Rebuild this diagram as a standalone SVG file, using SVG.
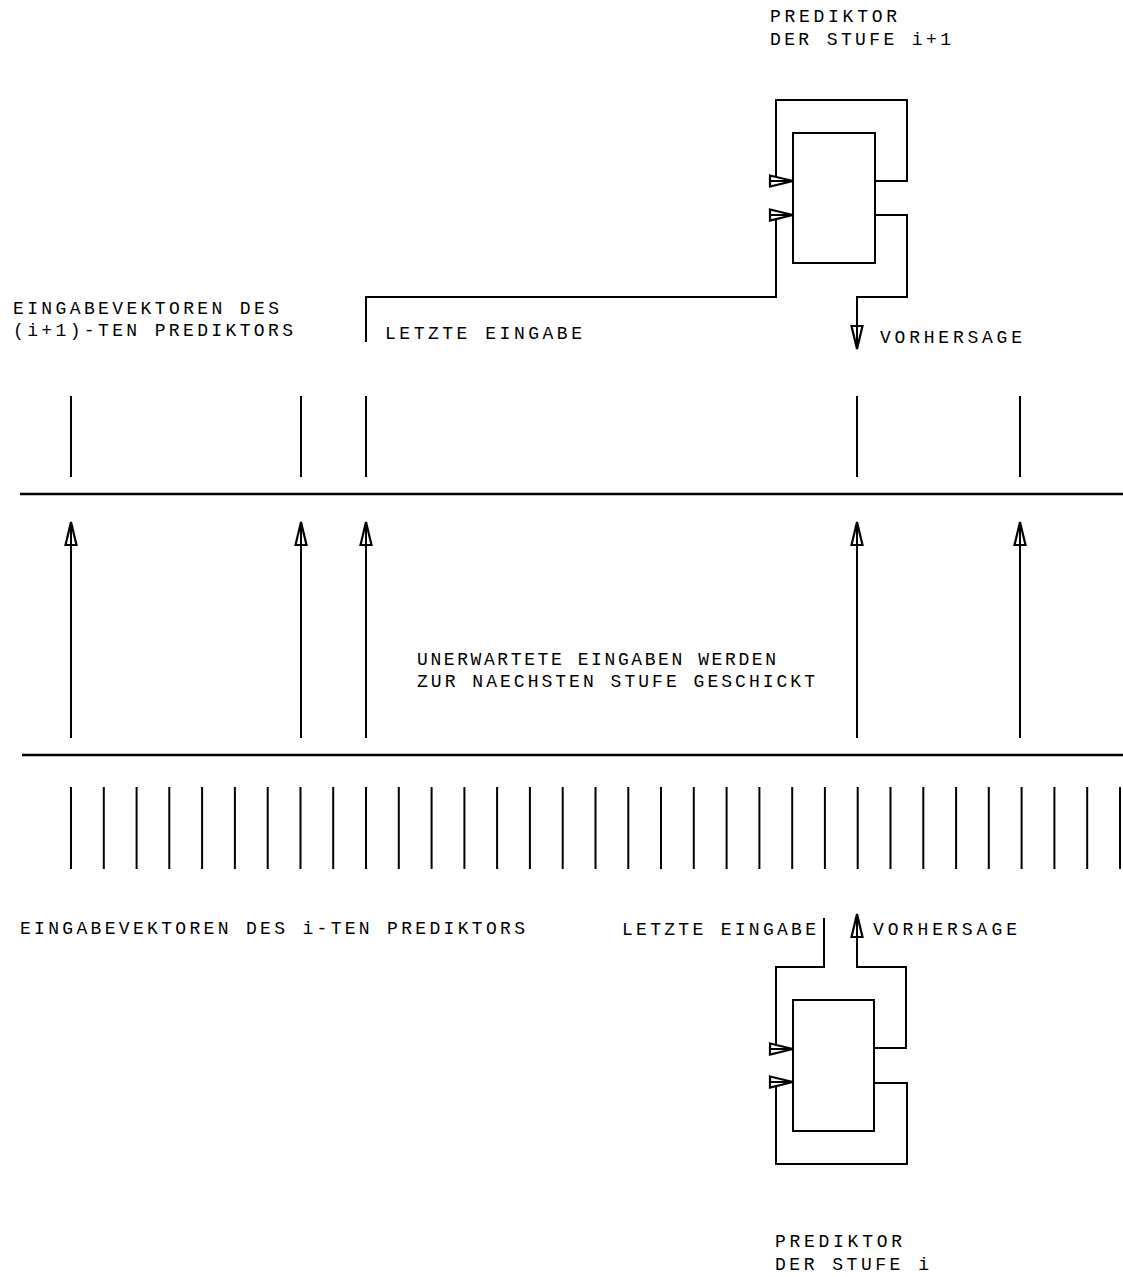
<svg xmlns="http://www.w3.org/2000/svg" width="1123" height="1277" viewBox="0 0 1123 1277">
<style>
text{font-family:"Liberation Mono","Courier New",monospace;font-size:18px;fill:#000}
.ln{stroke:#000;stroke-width:2;fill:none}
.bus{stroke:#000;stroke-width:2.5;fill:none}
.box{stroke:#000;stroke-width:2;fill:#fff}
.ar{stroke:#000;stroke-width:2;fill:none;marker-end:url(#ah)}
</style>
<defs>
<marker id="ah" markerUnits="userSpaceOnUse" markerWidth="30" markerHeight="18" viewBox="-2 -9 30 18" refX="23" refY="0" orient="auto">
<path d="M0,-5.5 L23,0 L0,5.5 Z" fill="#fff" stroke="#000" stroke-width="2.2"/>
<path d="M0,0 L23,0" stroke="#000" stroke-width="2"/>
</marker>
</defs>
<rect width="1123" height="1277" fill="#fff"/>

<g id="buses">
<line class="bus" x1="20" y1="494" x2="1123" y2="494"/>
<line class="bus" x1="22" y1="755" x2="1123" y2="755"/>
</g>

<g id="input-ticks-i">
<path class="ln" d="M71,787V869M103.8,787V869M136.6,787V869M169.3,787V869M202.1,787V869M234.9,787V869M267.7,787V869M300.5,787V869M333.2,787V869M366,787V869M398.8,787V869M431.6,787V869M464.4,787V869M497.1,787V869M529.9,787V869M562.7,787V869M595.5,787V869M628.3,787V869M661,787V869M693.8,787V869M726.6,787V869M759.4,787V869M792.2,787V869M824.9,787V869M857.7,787V869M890.5,787V869M923.3,787V869M956.1,787V869M988.8,787V869M1021.6,787V869M1054.4,787V869M1087.2,787V869M1120,787V869"/>
</g>

<g id="input-ticks-i1">
<path class="ln" d="M71,396V477M301,396V477M366,396V477M857,396V477M1020,396V477"/>
</g>

<g id="connectors">
<line class="ar" x1="71" y1="738" x2="71" y2="522"/>
<line class="ar" x1="301" y1="738" x2="301" y2="522"/>
<line class="ar" x1="366" y1="738" x2="366" y2="522"/>
<line class="ar" x1="857" y1="738" x2="857" y2="522"/>
<line class="ar" x1="1020" y1="738" x2="1020" y2="522"/>
<path class="ar" d="M875,181H907V100H776V181H793"/>
<path class="ar" d="M366,342V297H776V215H793"/>
<path class="ar" d="M875,215H907V297H857V349"/>
<path class="ar" d="M824,918V967H776V1049H793"/>
<path class="ar" d="M874,1048H906V967H857V914"/>
<path class="ar" d="M874,1083H907V1164H776V1082H793"/>
</g>

<g id="predictor-i1">
<rect class="box" x="793" y="133" width="82" height="130"/>
<text x="770" y="22" textLength="127" lengthAdjust="spacing">PREDIKTOR</text>
<text x="770" y="45" textLength="181" lengthAdjust="spacing">DER STUFE i+1</text>
</g>

<g id="predictor-i">
<rect class="box" x="793" y="1000" width="81" height="131"/>
<text x="775" y="1247" textLength="127" lengthAdjust="spacing">PREDIKTOR</text>
<text x="775" y="1270" textLength="154" lengthAdjust="spacing">DER STUFE i</text>
</g>

<g id="labels">
<text x="13" y="314" textLength="266" lengthAdjust="spacing">EINGABEVEKTOREN DES</text>
<text x="13" y="336" textLength="280" lengthAdjust="spacing">(i+1)-TEN PREDIKTORS</text>
<text x="385" y="339" textLength="197" lengthAdjust="spacing">LETZTE EINGABE</text>
<text x="880" y="343" textLength="142" lengthAdjust="spacing">VORHERSAGE</text>
<text x="417" y="665" textLength="359" lengthAdjust="spacing">UNERWARTETE EINGABEN WERDEN</text>
<text x="417" y="687" textLength="398" lengthAdjust="spacing">ZUR NAECHSTEN STUFE GESCHICKT</text>
<text x="20" y="934" textLength="505" lengthAdjust="spacing">EINGABEVEKTOREN DES i-TEN PREDIKTORS</text>
<text x="622" y="935" textLength="194" lengthAdjust="spacing">LETZTE EINGABE</text>
<text x="873" y="935" textLength="144" lengthAdjust="spacing">VORHERSAGE</text>
</g>
</svg>
